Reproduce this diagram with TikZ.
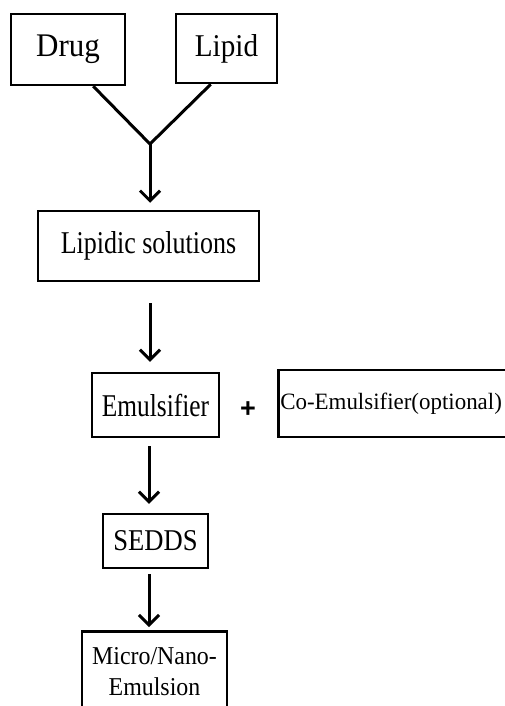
\documentclass[tikz,border=0pt]{standalone}
\usepackage{fontspec}
\setmainfont{Liberation Serif}
\newfontfamily\plusfont{Liberation Sans}
\newcommand\cfont[3]{\fontspec[FakeStretch=#1]{Liberation Serif}\fontsize{#2}{#3}\selectfont}
\usetikzlibrary{arrows.meta}
\begin{document}
\begin{tikzpicture}[x=1pt,y=-1pt,
  box/.style={draw=black, line width=2.5pt, inner sep=0pt, align=center},
  conn/.style={line width=3pt, draw=black},
  arr/.style={conn, -{Straight Barb[length=10pt,width=20pt]}}]
\useasboundingbox (0,0) rectangle (505,706);
\node[box, minimum width=114pt, minimum height=71pt, font=\cfont{0.94}{33}{38}] (drug) at (68,49.5) {Drug};
\node[box, minimum width=101pt, minimum height=69pt, font=\cfont{0.92}{31.7}{36}] (lipid) at (226.5,48.5) {Lipid};
\node[box, minimum width=221pt, minimum height=70pt, font=\cfont{0.82}{31.7}{36}] (sol) at (148.5,246) {Lipidic solutions};
\node[box, minimum width=127pt, minimum height=64pt, font=\cfont{0.80}{31.7}{36}] (emul) at (155.5,405) {Emulsifier};
\node[font=\plusfont\bfseries\fontsize{27}{30}\selectfont, inner sep=0pt] (plus) at (248,410) {+};
\node[box, anchor=west, text width=236pt, align=left, minimum height=67pt, inner xsep=2pt, font=\cfont{0.98}{23.4}{27}] (co) at (277,403.5) {Co-Emulsifier(optional)};
\node[box, minimum width=105pt, minimum height=54pt, font=\cfont{0.88}{30.2}{35}] (sedds) at (155.5,541) {SEDDS};
\node[box, anchor=north, text width=145pt, inner ysep=16pt, font=\cfont{0.93}{25.7}{31}] (micro) at (154.5,630) {Micro/Nano-\\Emulsion};
\coordinate (j) at (150,144);
\draw[conn] ([xshift=-33pt]drug.south east) -- (j);
\draw[conn] ([xshift=36pt]lipid.south west) -- (j);
\draw[arr, shorten >=7pt] (j) -- (j |- sol.north);
\draw[arr, shorten <=21pt, shorten >=10pt] ([xshift=1.5pt]sol.south) -- ([xshift=1.5pt]sol.south |- emul.north);
\draw[arr, shorten <=8pt, shorten >=9pt] ([xshift=-6.5pt]emul.south) -- ([xshift=-6.5pt]emul.south |- sedds.north);
\draw[arr, shorten <=5pt, shorten >=3pt] ([xshift=-6.5pt]sedds.south) -- ([xshift=-6.5pt]sedds.south |- micro.north);
\end{tikzpicture}
\end{document}
